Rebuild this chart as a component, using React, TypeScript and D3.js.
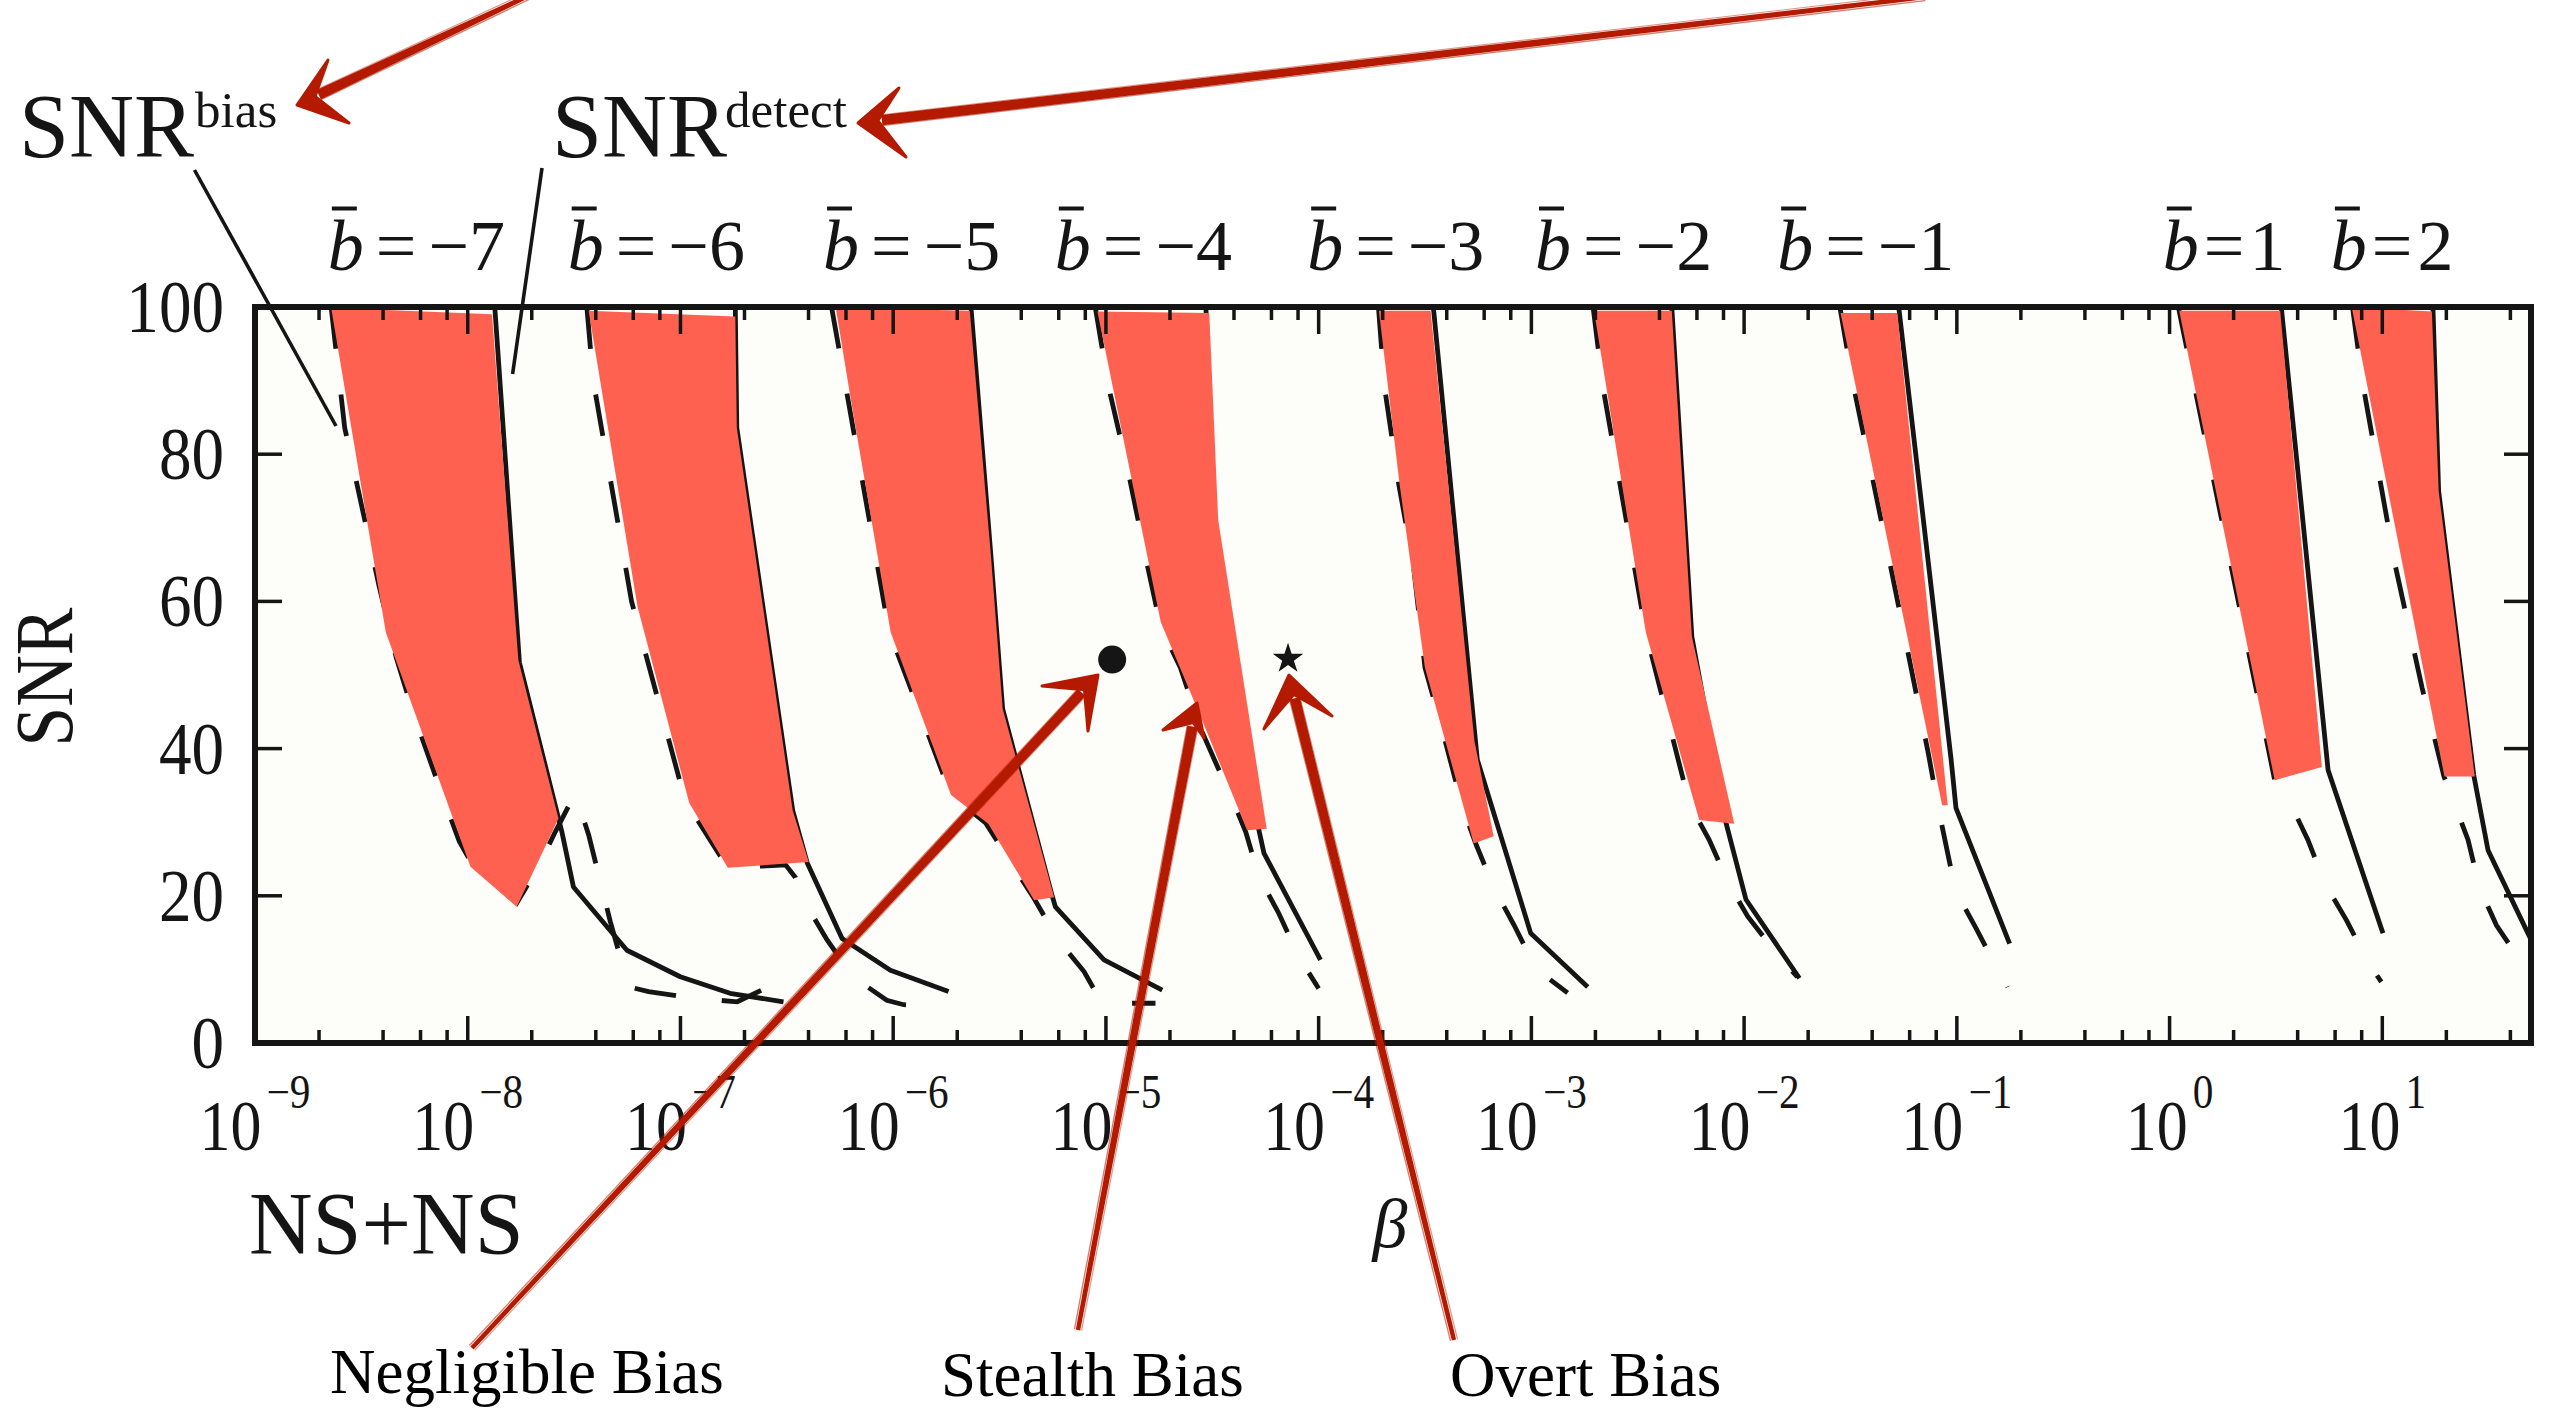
import React from 'react';
import * as d3 from 'd3';

type P = [number, number];

// ---------- data: [beta, SNR] ----------
// b = -7
const detectM7: P[] = [[1.34e-8, 100], [1.75e-8, 51.7], [2.77e-8, 28.7], [3.14e-8, 21.2], [5.6e-8, 12.6], [9.98e-8, 9.0], [1.71e-7, 6.75], [3.05e-7, 5.6]];
const biasM7: P[] = [[2.28e-9, 100], [2.64e-9, 83.6], [3.83e-9, 62.1], [4.61e-9, 52.4], [5.56e-9, 44.7], [7.59e-9, 33.7], [9.12e-9, 27.4], [1.05e-8, 24.3], [1.7e-8, 19.0], [2.15e-8, 24.0], [2.58e-8, 28.7], [3.2e-8, 33.9], [3.7e-8, 28.3], [4.68e-8, 16.5], [5.7e-8, 7.65], [7.08e-8, 6.97], [1.17e-7, 6.07], [1.85e-7, 5.6], [3.05e-7, 8.6]];
const shadeM7: P[] = [[2.28e-9, 99.9], [1.3e-8, 99.0], [1.73e-8, 52.0], [2.67e-8, 30.5], [1.7e-8, 18.5], [1.03e-8, 23.95], [4.12e-9, 55.8]];
// b = -6
const detectM6: P[] = [[1.81e-7, 100], [1.84e-7, 83.6], [3.37e-7, 31.6], [3.94e-7, 24.5], [5.75e-7, 14.2], [9.7e-7, 9.9], [1.82e-6, 7.0]];
const biasM6: P[] = [[3.63e-8, 100], [3.89e-8, 90], [5.89e-8, 60], [1.05e-7, 33], [1.67e-7, 23.8], [3.12e-7, 24.2], [3.47e-7, 22.5], [3.86e-7, 19.0], [4.89e-7, 14.0], [6.46e-7, 9.0], [9.33e-7, 5.8], [1.12e-6, 5.2], [1.79e-6, 4.9]];
const shadeM6: P[] = [[3.7e-8, 99.5], [1.81e-7, 98.7], [1.84e-7, 83.6], [3.37e-7, 31.6], [4.01e-7, 24.6], [1.67e-7, 23.8], [1.1e-7, 32.6], [6.28e-8, 59.3]];
// b = -5
const detectM5: P[] = [[2.32e-6, 100], [2.88e-6, 66.2], [3.27e-6, 45.4], [5.6e-6, 19.9], [5.79e-6, 18.5], [9.8e-6, 11.3], [1.84e-5, 7.2]];
const biasM5: P[] = [[5.13e-7, 100], [6.17e-7, 87], [9.55e-7, 56], [1.87e-6, 33.7], [2.72e-6, 29.9], [3.56e-6, 24.6], [4.58e-6, 19.7], [5.9e-6, 14.2], [7.89e-6, 9.7], [9.33e-6, 6.0], [1.09e-5, 5.4], [1.71e-5, 5.4]];
const shadeM5: P[] = [[5.37e-7, 99.9], [2.29e-6, 99.5], [2.88e-6, 66.2], [3.27e-6, 45.4], [5.71e-6, 19.8], [4.6e-6, 19.4], [2.8e-6, 29.8], [1.87e-6, 33.7], [9.73e-7, 55.8], [6.3e-7, 87.7]];
// b = -4
const detectM4: P[] = [[2.95e-5, 100], [3.24e-5, 71], [5.24e-5, 28.9], [5.53e-5, 25.8], [1.02e-4, 11.3]];
const biasM4: P[] = [[8.91e-6, 100], [1.03e-5, 89.1], [1.28e-5, 77.3], [1.55e-5, 65.5], [1.81e-5, 56.5], [2.24e-5, 51.0], [2.79e-5, 42.7], [4.18e-5, 31.2], [4.54e-5, 28.7], [5.24e-5, 22.6], [6.5e-5, 17.6], [8.07e-5, 11.7], [1.0e-4, 7.4]];
const shadeM4: P[] = [[9.12e-6, 99.4], [3.06e-5, 99.2], [3.37e-5, 71.1], [5.7e-5, 29.1], [4.61e-5, 28.9], [2.82e-5, 44], [1.81e-5, 57.2]];
// b = -3
const detectM3: P[] = [[3.46e-4, 100], [5.57e-4, 38.5], [9.93e-4, 14.9], [1.84e-3, 7.6]];
const biasM3: P[] = [[1.91e-4, 100], [2.04e-4, 89.1], [2.38e-4, 75.9], [2.79e-4, 64.9], [3.16e-4, 51], [3.8e-4, 42.7], [4.74e-4, 32.1], [5.51e-4, 26.9], [6.68e-4, 21.0], [8.3e-4, 16.0], [1.05e-3, 10.1], [1.48e-3, 6.8]];
const shadeM3: P[] = [[1.92e-4, 99.5], [3.36e-4, 99.5], [5.4e-4, 41], [6.65e-4, 28.1], [5.36e-4, 27.1], [3.16e-4, 51], [2.4e-4, 76]];
// b = -2
const detectM2: P[] = [[4.57e-3, 100], [5.68e-3, 55.2], [8.22e-3, 29.9], [1.02e-2, 19.5], [1.82e-2, 8.8]];
const biasM2: P[] = [[1.95e-3, 100], [2.17e-3, 89.1], [2.61e-3, 75.9], [3.45e-3, 55.8], [5.52e-3, 32.6], [6.85e-3, 27.6], [8.51e-3, 21.5], [1.04e-2, 17.2], [1.46e-2, 11.7], [1.78e-2, 9.0]];
const shadeM2: P[] = [[1.97e-3, 99.5], [4.57e-3, 99.5], [5.68e-3, 55.2], [8.99e-3, 29.8], [6.15e-3, 30.3], [3.45e-3, 55.8]];
// b = -1
const detectM1: P[] = [[5.33e-2, 100], [9.4e-2, 38.5], [9.91e-2, 31.9], [1.77e-1, 13.5]];
const biasM1: P[] = [[2.82e-2, 100], [3.24e-2, 89.8], [4.61e-2, 68.3], [7.36e-2, 39.2], [8.13e-2, 32.3], [8.89e-2, 26.9], [9.33e-2, 24], [9.91e-2, 20.6], [1.23e-1, 15.6], [1.56e-1, 9.9], [1.73e-1, 7.6]];
const shadeM1: P[] = [[2.84e-2, 99.2], [5.25e-2, 99.2], [9.06e-2, 32.3], [8.53e-2, 32.3]];
// b = 1
const detectP1: P[] = [[3.35, 100], [5.56, 37.1], [10.07, 14.9]];
const biasP1: P[] = [[1.1, 100], [3.12, 35.7], [3.66, 32.8], [4.47, 27.6], [5.36, 21.7], [6.78, 16.7], [8.57, 11.0], [9.89, 8.3]];
const shadeP1: P[] = [[1.11, 99.5], [3.31, 99.5], [5.2, 37.5], [3.12, 35.7]];
// b = 2
const detectP2: P[] = [[17.3, 100], [18.4, 75], [26.9, 36.4], [31.4, 26.2], [48.4, 14.9], [56.2, 11.0]];
const biasP2: P[] = [[7.24, 100], [8.07, 89.8], [11.5, 64.9], [15.4, 48.2], [19.5, 36.2], [21.5, 33.0], [25.3, 27.6], [28.7, 21.0], [34.4, 16.0], [45.9, 10.6], [50.1, 10.0]];
const shadeP2: P[] = [[7.18, 100], [17.1, 99.4], [18.4, 75], [27.2, 36.2], [19.6, 36.2]];

const bValues = [-7, -6, -5, -4, -3, -2, -1, 1, 2];
const bLabelBeta = [2.2e-9, 2.95e-8, 4.68e-7, 5.75e-6, 8.83e-5, 1.04e-3, 1.43e-2, 0.929, 5.73];
const yTickValues = [0, 20, 40, 60, 80, 100];
const xDecades = [-9, -8, -7, -6, -5, -4, -3, -2, -1, 0, 1];
const minorMultipliers = [2, 4, 6, 8];
const circlePoint: P = [1.07e-5, 52.1];
const starPoint: P = [7.18e-5, 52.2];

const groups = [
  { b: -7, detect: detectM7, bias: biasM7, shade: shadeM7 },
  { b: -6, detect: detectM6, bias: biasM6, shade: shadeM6 },
  { b: -5, detect: detectM5, bias: biasM5, shade: shadeM5 },
  { b: -4, detect: detectM4, bias: biasM4, shade: shadeM4 },
  { b: -3, detect: detectM3, bias: biasM3, shade: shadeM3 },
  { b: -2, detect: detectM2, bias: biasM2, shade: shadeM2 },
  { b: -1, detect: detectM1, bias: biasM1, shade: shadeM1 },
  { b: 1, detect: detectP1, bias: biasP1, shade: shadeP1 },
  { b: 2, detect: detectP2, bias: biasP2, shade: shadeP2 },
];

const W = 2550;
const H = 1410;
const L = 255, R = 2531, T = 307, B = 1043;
const serif = '"Liberation Serif", "Times New Roman", Times, serif';
const red = '#fe6150';
const ink = '#151515';
const arrowRed = '#b41a00';

function SketchArrow({ start, tip, barbA, barbB }: { start: P; tip: P; barbA: P; barbB: P }) {
  const dx = start[0] - tip[0];
  const dy = start[1] - tip[1];
  const len = Math.hypot(dx, dy);
  const ux = dx / len, uy = dy / len;
  const nx = -uy, ny = ux;
  const neck: P = [tip[0] + ux * 24, tip[1] + uy * 24];
  const w0 = 5.2, w1 = 2.2;
  const shaft = [
    [neck[0] + nx * w0, neck[1] + ny * w0],
    [start[0] + nx * w1, start[1] + ny * w1],
    [start[0] - nx * w1, start[1] - ny * w1],
    [neck[0] - nx * w0, neck[1] - ny * w0],
  ];
  const inner: P = [tip[0] + ux * 20, tip[1] + uy * 20];
  const head = [tip, barbA, inner, barbB];
  const toPts = (a: number[][]) => a.map(p => p.join(',')).join(' ');
  const sk = (o: number) => `M${start[0] + nx * o},${start[1] + ny * o} L${neck[0] + nx * o * 1.5},${neck[1] + ny * o * 1.5}`;
  return (
    <g>
      <polygon points={toPts(shaft)} fill={arrowRed} />
      <path d={sk(3.6)} stroke={arrowRed} strokeWidth={1.4} opacity={0.55} fill="none" />
      <path d={sk(-3.6)} stroke={arrowRed} strokeWidth={1.2} opacity={0.45} fill="none" />
      <polygon points={toPts(head as number[][])} fill={arrowRed} stroke={arrowRed} strokeWidth={3} strokeLinejoin="round" />
    </g>
  );
}

export default function App() {
  const x = d3.scaleLog().domain([1e-9, 50]).range([L, R]);
  const y = d3.scaleLinear().domain([0, 100]).range([B, T]);
  const line = d3.line<P>().x(d => x(d[0])).y(d => y(d[1]));

  const majorTicks = xDecades.map(e => Math.pow(10, e));
  const minorTicks = xDecades
    .flatMap(e => minorMultipliers.map(m => m * Math.pow(10, e)))
    .filter(v => v < 50);
  const star = d3.symbol().type(d3.symbolStar).size(290)();

  return (
    <svg width={W} height={H} viewBox={`0 0 ${W} ${H}`}
      style={{ position: 'absolute', left: 0, top: 0, display: 'block', background: '#ffffff' }}
      fontFamily={serif}>
      <defs>
        <clipPath id="plotClip">
          <rect x={L} y={T} width={R - L} height={B - T} />
        </clipPath>
      </defs>
      <rect x={L} y={T} width={R - L} height={B - T} fill="#fdfdfa" />

      <g clipPath="url(#plotClip)">
        {groups.map(g => (
          <g key={'l' + g.b}>
            <path d={line(g.detect) || ''} fill="none" stroke={ink} strokeWidth={4.8} strokeLinejoin="round" />
            <path d={line(g.bias) || ''} fill="none" stroke={ink} strokeWidth={4.8} strokeDasharray="42 46" />
          </g>
        ))}
        {groups.map(g => (
          <path key={'s' + g.b} d={(line(g.shade) || '') + 'Z'} fill={red} stroke="none" />
        ))}
      </g>

      {/* ticks */}
      <g stroke={ink} strokeWidth={3.5}>
        {majorTicks.map((v, i) => (
          <g key={'mj' + i}>
            <line x1={x(v)} x2={x(v)} y1={B} y2={B - 27} />
            <line x1={x(v)} x2={x(v)} y1={T} y2={T + 27} />
          </g>
        ))}
        {minorTicks.map((v, i) => (
          <g key={'mn' + i}>
            <line x1={x(v)} x2={x(v)} y1={B} y2={B - 13} />
            <line x1={x(v)} x2={x(v)} y1={T} y2={T + 13} />
          </g>
        ))}
        {yTickValues.map(v => (
          <g key={'yt' + v}>
            <line x1={L} x2={L + 27} y1={y(v)} y2={y(v)} />
            <line x1={R} x2={R - 27} y1={y(v)} y2={y(v)} />
          </g>
        ))}
      </g>
      <rect x={L} y={T} width={R - L} height={B - T} fill="none" stroke={ink} strokeWidth={6} />

      {/* markers */}
      <circle cx={x(circlePoint[0])} cy={y(circlePoint[1])} r={14} fill={ink} />
      <path d={star || ''} transform={`translate(${x(starPoint[0])},${y(starPoint[1])})`} fill={ink} />

      {/* y tick labels */}
      {yTickValues.map(v => (
        <text key={'yl' + v} transform={`translate(224,${y(v) + 25}) scale(0.88,1)`} textAnchor="end" fontSize={74} fill={ink}>{v}</text>
      ))}
      {/* x tick labels */}
      {xDecades.map(e => (
        <text key={'xl' + e} transform={`translate(${x(Math.pow(10, e))},1150) scale(0.86,1)`} textAnchor="middle" fontSize={72} fill={ink}>
          10<tspan fontSize={48} dy={-42} dx={6}>{e < 0 ? '\u2212' + Math.abs(e) : String(e)}</tspan>
        </text>
      ))}

      {/* b-bar labels */}
      {bValues.map((b, i) => {
        const x0 = x(bLabelBeta[i]);
        const gap = b < 0 ? 12 : 5;
        return (
          <g key={'bl' + b}>
            <text x={x0} y={270} fontSize={72} fill={ink}>
              <tspan fontStyle="italic">b</tspan>
              <tspan dx={gap}>=</tspan>
              <tspan dx={gap}>{b < 0 ? '\u2212' + Math.abs(b) : String(b)}</tspan>
            </text>
            <line x1={x0 + 4} x2={x0 + 29} y1={208.5} y2={208.5} stroke={ink} strokeWidth={4} />
          </g>
        );
      })}

      {/* axis titles */}
      <text transform="translate(72,677) rotate(-90) scale(0.87,1)" textAnchor="middle" fontSize={82} fill={ink}>SNR</text>
      <text x={1390} y={1247} textAnchor="middle" fontSize={70} fontStyle="italic" fill={ink}>β</text>
      <text x={249} y={1253} fontSize={88} fill={ink}>NS+NS</text>

      {/* SNR labels + leaders */}
      <text x={19} y={157} fontSize={90} fill={ink}>SNR<tspan fontSize={51} dy={-30} dx={1}>bias</tspan></text>
      <text x={552} y={157} fontSize={90} fill={ink}>SNR<tspan fontSize={51} dy={-30} dx={-2}>detect</tspan></text>
      <line x1={194.5} y1={170} x2={336} y2={426} stroke={ink} strokeWidth={3.6} />
      <line x1={542} y1={168} x2={512.6} y2={374} stroke={ink} strokeWidth={3.6} />

      {/* bottom annotations */}
      <text x={330} y={1393} fontSize={63} fill="#000">Negligible Bias</text>
      <text x={941} y={1396} fontSize={63} fill="#000">Stealth Bias</text>
      <text x={1450} y={1396} fontSize={63} fill="#000">Overt Bias</text>

      {/* red hand-drawn arrows */}
      <SketchArrow start={[530, -5]} tip={[297, 105]} barbA={[328, 60]} barbB={[349, 123]} />
      <SketchArrow start={[1925, -3]} tip={[858, 123]} barbA={[899, 88]} barbB={[906, 157]} />
      <SketchArrow start={[472, 1348]} tip={[1098, 675]} barbA={[1042, 686]} barbB={[1088, 731]} />
      <SketchArrow start={[1078, 1330]} tip={[1197, 703]} barbA={[1163, 730]} barbB={[1204, 738]} />
      <SketchArrow start={[1454, 1340]} tip={[1289, 675]} barbA={[1264, 729]} barbB={[1332, 716]} />
    </svg>
  );
}
